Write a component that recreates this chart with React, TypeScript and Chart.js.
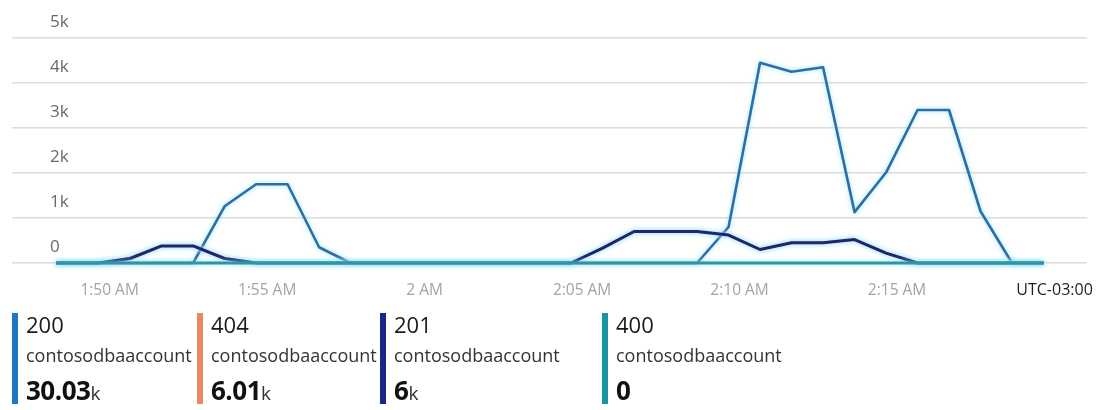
import React, { useEffect, useRef } from "react";
import { Chart, registerables } from "chart.js";

Chart.register(...registerables);

// minutes relative to 1:50 AM
const minutes = [-1.7, -0.35, 0.65, 1.65, 2.65, 3.65, 4.65, 5.65, 6.65, 7.65, 8.65, 9.65, 10.65, 11.65, 12.65, 13.65, 14.65, 15.65, 16.65, 17.65, 18.65, 19.65, 20.65, 21.65, 22.65, 23.65, 24.65, 25.65, 26.65, 27.65, 28.65, 29.65];

const series200 = [0, 0, 0, 0, 0, 1260, 1750, 1750, 350, 0, 0, 0, 0, 0, 0, 0, 0, 0, 0, 0, 0, 800, 4450, 4250, 4350, 1130, 2010, 3400, 3400, 1150, 0, 0];
const series404 = [0, 0, 110, 380, 380, 100, 0, 0, 0, 0, 0, 0, 0, 0, 0, 0, 0, 330, 700, 700, 700, 620, 300, 450, 450, 520, 230, 0, 0, 0, 0, 0];
const series201 = [0, 0, 100, 380, 380, 100, 0, 0, 0, 0, 0, 0, 0, 0, 0, 0, 0, 330, 700, 700, 700, 620, 300, 450, 450, 520, 220, 0, 0, 0, 0, 0];
const series400 = [0, 0, 0, 0, 0, 0, 0, 0, 0, 0, 0, 0, 0, 0, 0, 0, 0, 0, 0, 0, 0, 0, 0, 0, 0, 0, 0, 0, 0, 0, 0, 0];

const xTickMinutes = [0, 5, 10, 15, 20, 25, 30];
const xTickLabels = ["1:50 AM", "1:55 AM", "2 AM", "2:05 AM", "2:10 AM", "2:15 AM", "UTC-03:00"];

const yTickValues = [0, 1000, 2000, 3000, 4000, 5000];
const yTickLabels = ["0", "1k", "2k", "3k", "4k", "5k"];

const legendCodes = ["200", "404", "201", "400"];
const legendAccounts = ["contosodbaaccount", "contosodbaaccount", "contosodbaaccount", "contosodbaaccount"];
const legendTotals = ["30.03", "6.01", "6", "0"];
const legendUnits = ["k", "k", "k", ""];

const lineColors = ["#2c6fa4", "#e8875e", "#24246c", "#2b97a3"];
const legendColors = ["#1e76c6", "#ea8862", "#16288a", "#1a93a4"];

const FONT = '"Open Sans", "Noto Sans", sans-serif';

const CANVAS_H = 310;
const PLOT_BOTTOM = 263;

const glowPlugin = {
  id: "glow",
  beforeDatasetDraw(chart: any) {
    const ctx = chart.ctx;
    ctx.save();
    ctx.shadowColor = "rgba(150,225,248,1)";
    ctx.shadowBlur = 5;
  },
  afterDatasetDraw(chart: any) {
    chart.ctx.restore();
  },
};

function pts(values: number[]) {
  return values.map((v, i) => ({ x: minutes[i], y: v }));
}

function zeroPadding(scale: any) {
  scale.paddingTop = 0;
  scale.paddingBottom = 0;
  scale.paddingLeft = 0;
  scale.paddingRight = 0;
}

export default function App() {
  const ref = useRef<HTMLCanvasElement | null>(null);

  useEffect(() => {
    if (!ref.current) return;
    const lastTick = xTickMinutes.length - 1;
    const chart = new Chart(ref.current, {
      type: "line",
      data: {
        datasets: [
          { label: "200", data: pts(series200), borderColor: lineColors[0], borderWidth: 2.6, order: 3 },
          { label: "404", data: pts(series404), borderColor: lineColors[1], borderWidth: 2, order: 2 },
          { label: "201", data: pts(series201), borderColor: lineColors[2], borderWidth: 3, order: 1 },
          { label: "400", data: pts(series400), borderColor: lineColors[3], borderWidth: 3, order: 0 },
        ].map((d) => ({
          ...d,
          pointRadius: 0,
          tension: 0,
          fill: false,
          clip: false as any,
          borderJoinStyle: "round" as const,
        })),
      },
      options: {
        animation: false,
        responsive: false,
        maintainAspectRatio: false,
        layout: { padding: { left: 12, right: 21, top: 38, bottom: 0 } },
        plugins: { legend: { display: false }, tooltip: { enabled: false } },
        scales: {
          x: {
            type: "linear",
            min: -3.1,
            max: 31.03,
            grid: { display: false },
            border: { display: false },
            afterFit: (scale: any) => {
              scale.height = CANVAS_H - PLOT_BOTTOM;
              zeroPadding(scale);
            },
            afterBuildTicks: (axis: any) => {
              axis.ticks = xTickMinutes.map((v) => ({ value: v }));
            },
            ticks: {
              autoSkip: false,
              maxRotation: 0,
              padding: 10,
              font: (c: any) => ({ family: FONT, size: c.index === lastTick ? 16 : 15.5 }),
              color: (c: any) => (c.index === lastTick ? "#1e1e1e" : "#a3a3a3"),
              callback: (v: any) => {
                const i = xTickMinutes.indexOf(Number(v));
                return i >= 0 ? xTickLabels[i] : "";
              },
            },
          },
          y: {
            min: 0,
            max: 5000,
            grid: { color: "#dcdcdc", lineWidth: 1.5, drawTicks: false },
            border: { display: false },
            afterFit: (scale: any) => {
              scale.width = 0;
              zeroPadding(scale);
            },
            afterBuildTicks: (axis: any) => {
              axis.ticks = yTickValues.map((v) => ({ value: v }));
            },
            ticks: {
              mirror: true,
              padding: 38,
              labelOffset: -16,
              font: { family: FONT, size: 17 },
              color: "#6a6a6a",
              callback: (v: any) => {
                const i = yTickValues.indexOf(Number(v));
                return i >= 0 ? yTickLabels[i] : "";
              },
            },
          },
        },
      },
      plugins: [glowPlugin],
    });
    return () => chart.destroy();
  }, []);

  const itemLefts = [12, 197, 380, 602];

  return (
    <div
      style={{
        position: "absolute",
        left: 0,
        top: 0,
        width: 1108,
        height: 410,
        background: "#ffffff",
        fontFamily: FONT,
        overflow: "hidden",
      }}
    >
      <canvas ref={ref} width={1108} height={CANVAS_H} style={{ display: "block", width: 1108, height: CANVAS_H }} />
      {legendCodes.map((code, i) => (
        <div key={code} style={{ position: "absolute", left: itemLefts[i], top: 313, width: 185, height: 92 }}>
          <div style={{ position: "absolute", left: 0, top: 0, width: 6, height: 91, background: legendColors[i] }} />
          <div style={{ position: "absolute", left: 14, top: 0, fontSize: 22, lineHeight: "22px", color: "#1a1a1a", whiteSpace: "nowrap" }}>
            {code}
          </div>
          <div style={{ position: "absolute", left: 14, top: 33, fontSize: 18, lineHeight: "18px", color: "#333333", whiteSpace: "nowrap" }}>
            {legendAccounts[i]}
          </div>
          <div style={{ position: "absolute", left: 14, top: 64, fontSize: 26, lineHeight: "26px", color: "#111111", whiteSpace: "nowrap", fontWeight: 700, letterSpacing: -0.5 }}>
            {legendTotals[i]}
            <span style={{ fontSize: 19, fontWeight: 400, letterSpacing: 0, color: "#333333" }}>{legendUnits[i]}</span>
          </div>
        </div>
      ))}
    </div>
  );
}
